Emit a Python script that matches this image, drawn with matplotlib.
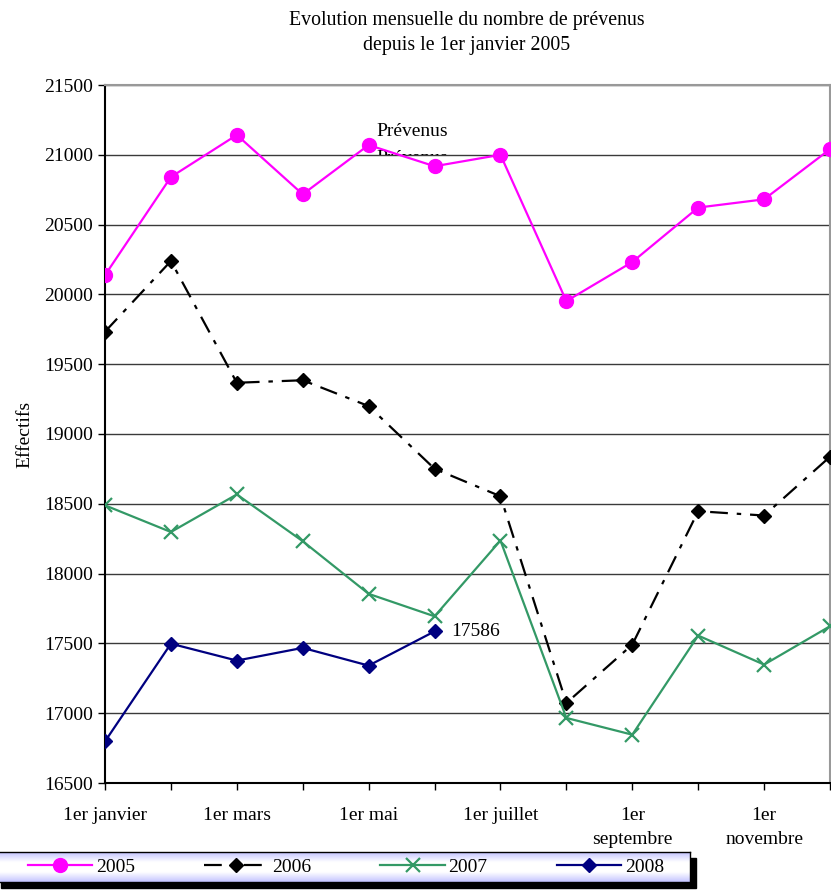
import matplotlib
matplotlib.use("Agg")
import numpy as np
import matplotlib.pyplot as plt
from matplotlib.patches import Rectangle
from matplotlib.colors import LinearSegmentedColormap
from matplotlib.transforms import Bbox, TransformedBbox

plt.rcParams['font.family'] = ['Liberation Serif', 'DejaVu Serif']

# categories (one per month) and the labels shown under every second tick
months = ["janvier", "février", "mars", "avril", "mai", "juin", "juillet",
          "août", "septembre", "octobre", "novembre", "décembre"]
xlabels = ["1er janvier", "1er mars", "1er mai", "1er juillet",
           "1er\nseptembre", "1er\nnovembre"]

y2005 = [20138, 20841, 21142, 20717, 21070, 20918, 21000, 19952, 20232, 20622, 20681, 21040]
y2006 = [19733, 20239, 19367, 19385, 19200, 18751, 18554, 17073, 17491, 18447, 18416, 18837]
y2007 = [18489, 18298, 18567, 18232, 17855, 17694, 18237, 16966, 16846, 17556, 17348, 17623]
y2008 = [16798, 17498, 17377, 17468, 17341, 17586]

W, H = 831, 890
fig = plt.figure(figsize=(W / 100, H / 100), dpi=100)
ax = fig.add_axes([105 / W, 1 - 783 / H, 725 / W, 698 / H])

x = list(range(len(months)))
l1, = ax.plot(x, y2005, color='#ff00ff', lw=1.6, marker='o', ms=10, label='2005', zorder=4)
l2, = ax.plot(x, y2006, color='black', lw=1.6, ls=(0, (8, 4, 2, 4)), marker='D', ms=7.5,
              label='2006', zorder=4)
l3, = ax.plot(x, y2007, color='#339966', lw=1.6, marker='x', ms=10, mew=1.6, label='2007', zorder=4)
l4, = ax.plot(x[:len(y2008)], y2008, color='#000080', lw=1.6, marker='D', ms=7.5,
              label='2008', zorder=4)

ax.annotate(str(y2008[-1]), (len(y2008) - 1, y2008[-1]), xytext=(12, 0),
            textcoords='offset points', va='center', fontsize=14)

# the "Prévenus" label and a half-hidden copy under it
ax.text(4.12, 21168, "Prévenus", fontsize=14, va='center', zorder=3)
t2 = ax.text(4.12, 21035, "Prévenus", fontsize=14, va='top', zorder=3)
t2.set_clip_box(TransformedBbox(Bbox([[3.5, 21000], [6.5, 21200]]), ax.transData))
t2.set_clip_on(True)

ax.set_xlim(0, 11)
ax.set_ylim(16500, 21500)
ax.set_yticks(range(16500, 21501, 500))
ax.set_xticks(x)
ax.set_xticklabels(['' if i % 2 else xlabels[i // 2] for i in x], linespacing=1.55)
ax.tick_params(axis='both', labelsize=14, length=5, width=1, direction='out', color='black')
ax.tick_params(axis='x', pad=12)
ax.yaxis.grid(True, color='#3a3a3a', lw=1)
ax.set_axisbelow(True)
for s in ['top', 'right']:
    ax.spines[s].set_color('#999999')
    ax.spines[s].set_linewidth(1.5)
ax.spines['left'].set_linewidth(1.5)
ax.spines['bottom'].set_linewidth(1.5)
ax.set_ylabel("Effectifs", fontsize=14, labelpad=8)

fig.text(0.562, 0.977, "Evolution mensuelle du nombre de prévenus", ha='center', va='center', fontsize=14.3)
fig.text(0.562, 0.949, "depuis le 1er janvier 2005", ha='center', va='center', fontsize=14.3)

# legend box: lavender gradient with a black drop shadow
bx0, bx1, by0, by1 = -5, 690, 852, 882
fig.patches.append(Rectangle(((bx0 + 6) / W, 1 - (by1 + 6) / H), (bx1 - bx0) / W, (by1 - by0) / H,
                             transform=fig.transFigure, color='black', zorder=-1))
lax = fig.add_axes([bx0 / W, 1 - by1 / H, (bx1 - bx0) / W, (by1 - by0) / H])
grad = LinearSegmentedColormap.from_list('lav', ['#c4c4ff', '#ffffff', '#ffffff', '#c4c4ff'])
lax.imshow(np.linspace(0, 1, 64).reshape(-1, 1), cmap=grad, aspect='auto', extent=(0, 1, 0, 1))
lax.set_xticks([])
lax.set_yticks([])
for s in lax.spines.values():
    s.set_color('black')
    s.set_linewidth(1)
lax.legend(handles=[l1, l2, l3, l4], ncol=4, loc='center', bbox_to_anchor=(0.505, 0.5),
           fontsize=14, frameon=False, handlelength=3.3, columnspacing=3.55,
           handletextpad=0.2, borderpad=0, borderaxespad=0)

fig.savefig("out.png", dpi=100)
